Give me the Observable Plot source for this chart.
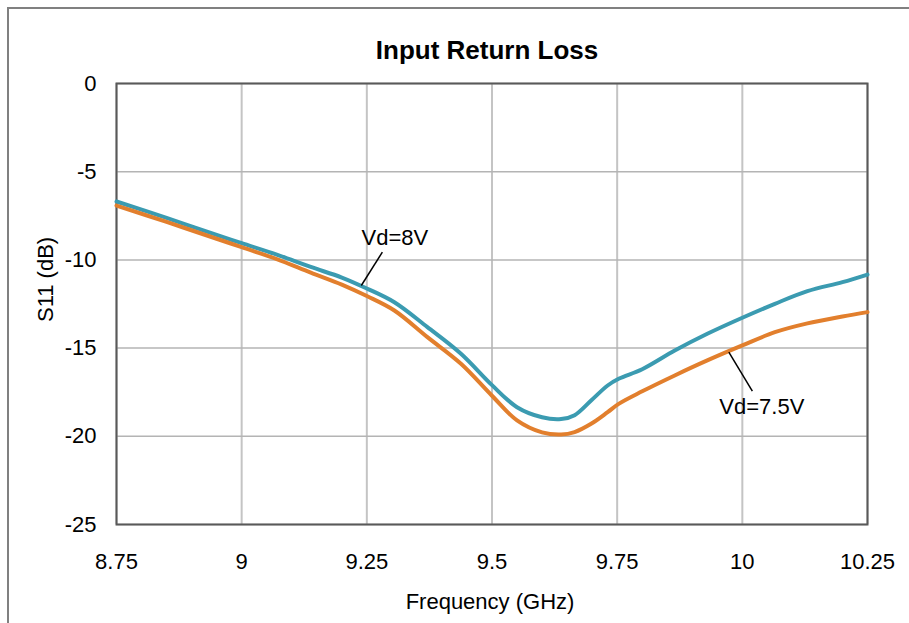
<!DOCTYPE html>
<html><head><meta charset="utf-8">
<script src="https://cdn.jsdelivr.net/npm/d3@7"></script>
<script src="https://cdn.jsdelivr.net/npm/@observablehq/plot@0.6"></script>
<style>
html,body{margin:0;padding:0;background:#fff;}
#wrap{position:relative;width:909px;height:623px;overflow:hidden;}
#border{position:absolute;left:7px;top:7px;width:940px;height:660px;border-left:2px solid #808080;border-top:2px solid #808080;pointer-events:none;}
#chart{position:absolute;left:0;top:0;}
</style></head><body>
<div id="wrap"><div id="chart"></div><div id="border"></div></div>
<script>
const freq = [8.75, 8.85, 8.95, 9.0, 9.07, 9.138, 9.2, 9.25, 9.305, 9.371, 9.438, 9.5, 9.55, 9.6, 9.638, 9.665, 9.698, 9.731, 9.753, 9.8, 9.865, 9.93, 10.0, 10.065, 10.13, 10.2, 10.25];
const s11Vd8 = [-6.69, -7.62, -8.58, -9.05, -9.7, -10.4, -11.0, -11.62, -12.4, -13.81, -15.32, -17.1, -18.35, -18.92, -19.02, -18.8, -17.97, -17.12, -16.74, -16.2, -15.14, -14.19, -13.28, -12.49, -11.77, -11.26, -10.83];
const s11Vd75 = [-6.92, -7.85, -8.8, -9.28, -9.95, -10.72, -11.4, -12.05, -12.87, -14.38, -15.89, -17.7, -19.1, -19.78, -19.9, -19.76, -19.29, -18.63, -18.16, -17.45, -16.55, -15.7, -14.85, -14.1, -13.6, -13.21, -12.96];
const seriesNames = ["Vd=8V", "Vd=7.5V"];
const seriesColors = ["#3b9bb1", "#e27f2d"];
const xTicks = [8.75, 9, 9.25, 9.5, 9.75, 10, 10.25];
const xTickLabels = ["8.75", "9", "9.25", "9.5", "9.75", "10", "10.25"];
const yTicks = [0, -5, -10, -15, -20, -25];
const yTickLabels = ["0", "-5", "-10", "-15", "-20", "-25"];
const titleText = "Input Return Loss";
const xLabel = "Frequency (GHz)";
const yLabel = "S11 (dB)";
// annotation labels and leader lines (data coordinates)
const annFreq = [9.306, 10.039];
const annS11 = [-8.73, -18.34];
const leadFreqFrom = [9.281, 10.02];
const leadS11From = [-9.56, -17.44];
const leadFreqTo = [9.239, 9.973];
const leadS11To = [-11.45, -15.23];

const rows = [];
seriesNames.forEach((name, k) => {
  const vals = k === 0 ? s11Vd8 : s11Vd75;
  freq.forEach((f, i) => rows.push({f, v: vals[i], s: name}));
});
const anns = seriesNames.map((name, k) => ({
  name, x: annFreq[k], y: annS11[k],
  x1: leadFreqFrom[k], y1: leadS11From[k], x2: leadFreqTo[k], y2: leadS11To[k]
}));
const fmtX = d => xTickLabels[xTicks.indexOf(d)];
const fmtY = d => yTickLabels[yTicks.indexOf(d)];

const chart = Plot.plot({
  width: 909, height: 623,
  marginLeft: 116, marginTop: 83, marginRight: 42, marginBottom: 99,
  style: {fontFamily: "'Liberation Sans', Arial, sans-serif", fontSize: "22px", color: "#000", background: "transparent"},
  x: {domain: [8.75, 10.25], ticks: xTicks, tickFormat: fmtX, label: null},
  y: {domain: [-25, 0], ticks: yTicks, tickFormat: fmtY, label: null},
  color: {domain: seriesNames, range: seriesColors},
  marks: [
    Plot.gridX(xTicks, {stroke: "#c4c4c4", strokeOpacity: 1, strokeWidth: 2}),
    Plot.gridY(yTicks, {stroke: "#b4b4b4", strokeOpacity: 1, strokeWidth: 1.5}),
    Plot.frame({stroke: "#595959", strokeWidth: 2}),
    Plot.line(rows, {x: "f", y: "v", z: "s", stroke: "s", strokeWidth: 4, curve: "catmull-rom"}),
    Plot.link(anns, {x1: "x1", y1: "y1", x2: "x2", y2: "y2", stroke: "#000", strokeWidth: 1.5}),
    Plot.text(anns, {x: "x", y: "y", text: "name", fill: "#000", fontSize: 22}),
    Plot.axisX(xTicks, {tickSize: 0, tickPadding: 29, fontSize: 22, tickFormat: fmtX, label: null}),
    Plot.axisY(yTicks, {tickSize: 0, tickPadding: 20, fontSize: 22, tickFormat: fmtY, label: null}),
    Plot.text([titleText], {frameAnchor: "top", lineAnchor: "middle", dy: -33, dx: -5, fontWeight: "bold", fontSize: 26, fill: "#000"}),
    Plot.text([xLabel], {frameAnchor: "bottom", lineAnchor: "middle", dy: 77, dx: -2, fontSize: 22, fill: "#000"}),
    Plot.text([yLabel], {frameAnchor: "left", lineAnchor: "middle", rotate: -90, dx: -71, dy: 18, fontSize: 22, fill: "#000"})
  ]
});
document.getElementById("chart").appendChild(chart);
</script>
</body></html>
